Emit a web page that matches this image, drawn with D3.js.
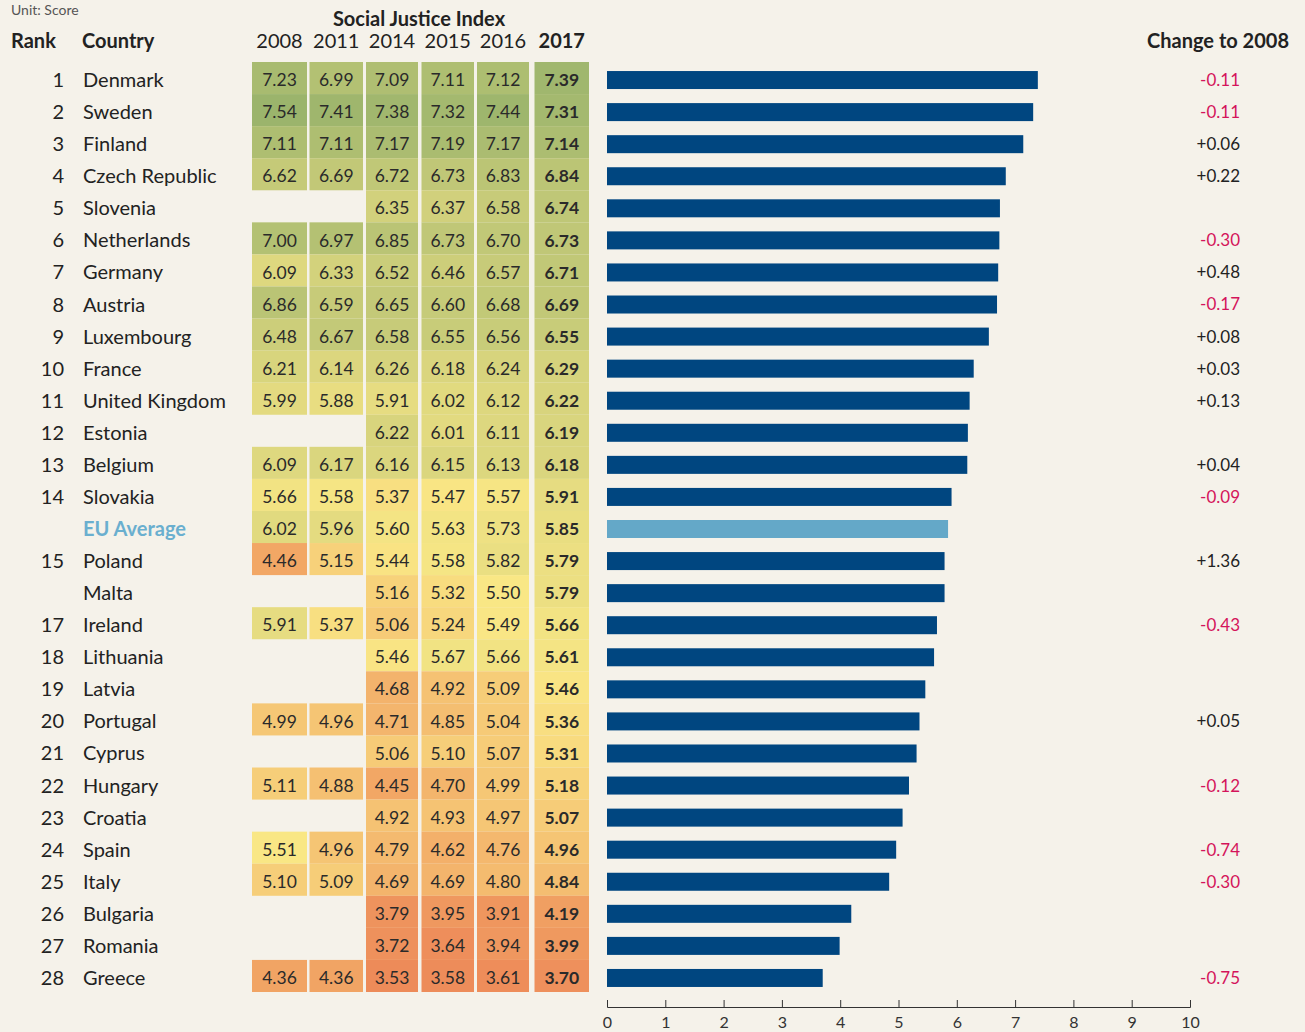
<!DOCTYPE html>
<html>
<head>
<meta charset="utf-8">
<script src="https://cdn.jsdelivr.net/npm/d3@7"></script>
<style>
  body { margin: 0; background: #f5f2ea; }
  svg { display: block; font-family: Lato, "Open Sans", sans-serif; }
</style>
</head>
<body>
<div id="vis"></div>
<script>
var width = 1305;
var height = 1032;

// data
var ranks = ['1', '2', '3', '4', '5', '6', '7', '8', '9', '10', '11', '12', '13', '14', '',
    '15', '', '17', '18', '19', '20', '21', '22', '23', '24', '25', '26', '27', '28'];
var countries = ['Denmark', 'Sweden', 'Finland', 'Czech Republic', 'Slovenia', 'Netherlands',
    'Germany', 'Austria', 'Luxembourg', 'France', 'United Kingdom', 'Estonia', 'Belgium',
    'Slovakia', 'EU Average', 'Poland', 'Malta', 'Ireland', 'Lithuania', 'Latvia', 'Portugal',
    'Cyprus', 'Hungary', 'Croatia', 'Spain', 'Italy', 'Bulgaria', 'Romania', 'Greece'];
var years = ['2008', '2011', '2014', '2015', '2016', '2017'];
var v2008 = [7.23, 7.54, 7.11, 6.62, null, 7.00, 6.09, 6.86, 6.48, 6.21, 5.99, null, 6.09,
    5.66, 6.02, 4.46, null, 5.91, null, null, 4.99, null, 5.11, null, 5.51, 5.10, null, null, 4.36];
var v2011 = [6.99, 7.41, 7.11, 6.69, null, 6.97, 6.33, 6.59, 6.67, 6.14, 5.88, null, 6.17,
    5.58, 5.96, 5.15, null, 5.37, null, null, 4.96, null, 4.88, null, 4.96, 5.09, null, null, 4.36];
var v2014 = [7.09, 7.38, 7.17, 6.72, 6.35, 6.85, 6.52, 6.65, 6.58, 6.26, 5.91, 6.22, 6.16,
    5.37, 5.60, 5.44, 5.16, 5.06, 5.46, 4.68, 4.71, 5.06, 4.45, 4.92, 4.79, 4.69, 3.79, 3.72, 3.53];
var v2015 = [7.11, 7.32, 7.19, 6.73, 6.37, 6.73, 6.46, 6.60, 6.55, 6.18, 6.02, 6.01, 6.15,
    5.47, 5.63, 5.58, 5.32, 5.24, 5.67, 4.92, 4.85, 5.10, 4.70, 4.93, 4.62, 4.69, 3.95, 3.64, 3.58];
var v2016 = [7.12, 7.44, 7.17, 6.83, 6.58, 6.70, 6.57, 6.68, 6.56, 6.24, 6.12, 6.11, 6.13,
    5.57, 5.73, 5.82, 5.50, 5.49, 5.66, 5.09, 5.04, 5.07, 4.99, 4.97, 4.76, 4.80, 3.91, 3.94, 3.61];
var v2017 = [7.39, 7.31, 7.14, 6.84, 6.74, 6.73, 6.71, 6.69, 6.55, 6.29, 6.22, 6.19, 6.18,
    5.91, 5.85, 5.79, 5.79, 5.66, 5.61, 5.46, 5.36, 5.31, 5.18, 5.07, 4.96, 4.84, 4.19, 3.99, 3.70];
var change = [-0.11, -0.11, 0.06, 0.22, null, -0.30, 0.48, -0.17, 0.08, 0.03, 0.13, null, 0.04,
    -0.09, null, 1.36, null, -0.43, null, null, 0.05, null, -0.12, null, -0.74, -0.30, null, null, -0.75];
var xTicks = [0, 1, 2, 3, 4, 5, 6, 7, 8, 9, 10];

var columns = [v2008, v2011, v2014, v2015, v2016, v2017];
var rows = countries.map(function (c, i) {
    return {
        rank: ranks[i], country: c, change: change[i], score: v2017[i],
        values: columns.map(function (col) { return col[i]; }),
        eu: c === 'EU Average'
    };
});

var svg = d3.select('#vis').append('svg')
    .attr('width', width)
    .attr('height', height);

// row positions
var y = d3.scaleBand()
    .domain(d3.range(rows.length))
    .range([62, 992])
    .paddingInner(0);

// heatmap column positions
var colX = [252, 309.5, 366, 421.5, 477, 534.5];
var colW = [55, 53.5, 52, 52.5, 52, 54.5];

var color = d3.scaleLinear()
    .domain([3.5, 4.5, 5.5, 6.35, 7.5])
    .range(['#ed8a59', '#f2a866', '#f9e785', '#d2d17c', '#9bb46c'])
    .clamp(true);

var x = d3.scaleLinear().domain([0, 10]).range([607, 1190]);

// headers
svg.append('text').attr('x', 11).attr('y', 15)
    .attr('font-size', 14).attr('fill', '#555').text('Unit: Score');
svg.append('text').attr('x', 419).attr('y', 26)
    .attr('text-anchor', 'middle').attr('font-size', 20).attr('font-weight', 700)
    .attr('fill', '#222').text('Social Justice Index');
svg.append('text').attr('x', 11).attr('y', 48)
    .attr('font-size', 20).attr('font-weight', 700).attr('fill', '#222').text('Rank');
svg.append('text').attr('x', 82).attr('y', 48)
    .attr('font-size', 20).attr('font-weight', 700).attr('fill', '#222').text('Country');
svg.append('text').attr('x', 1289).attr('y', 48)
    .attr('text-anchor', 'end').attr('font-size', 20).attr('font-weight', 700)
    .attr('fill', '#222').text('Change to 2008');
svg.selectAll('.year')
    .data(years)
    .enter().append('text')
    .attr('class', 'year')
    .attr('x', function (d, i) { return colX[i] + colW[i] / 2; })
    .attr('y', 48)
    .attr('text-anchor', 'middle')
    .attr('font-size', 20)
    .attr('font-weight', function (d, i) { return i === 5 ? 700 : 400; })
    .attr('fill', '#222')
    .text(function (d) { return d; });

var row = svg.append('g').selectAll('g')
    .data(rows)
    .enter().append('g')
    .attr('transform', function (d, i) { return 'translate(0,' + y(i) + ')'; });

var mid = y.bandwidth() / 2 + 2;

row.append('text')
    .attr('x', 64).attr('y', mid).attr('dy', '0.35em')
    .attr('text-anchor', 'end').attr('font-size', 20).attr('fill', '#222')
    .text(function (d) { return d.rank; });

row.append('text')
    .attr('x', 83).attr('y', mid).attr('dy', '0.35em')
    .attr('font-size', 20)
    .attr('font-weight', function (d) { return d.eu ? 700 : 400; })
    .attr('fill', function (d) { return d.eu ? '#6aafcf' : '#222'; })
    .text(function (d) { return d.country; });

// heat cells
var cell = row.selectAll('.cell')
    .data(function (d) {
        return d.values.map(function (v, j) { return { v: v, j: j }; })
            .filter(function (c) { return c.v !== null; });
    })
    .enter().append('g')
    .attr('class', 'cell');

cell.append('rect')
    .attr('x', function (c) { return colX[c.j]; })
    .attr('y', 0)
    .attr('width', function (c) { return colW[c.j]; })
    .attr('height', y.bandwidth())
    .attr('fill', function (c) { return color(c.v); });

cell.append('text')
    .attr('x', function (c) { return colX[c.j] + colW[c.j] / 2; })
    .attr('y', mid).attr('dy', '0.35em')
    .attr('text-anchor', 'middle')
    .attr('font-size', 17.5)
    .attr('font-weight', function (c) { return c.j === 5 ? 700 : 400; })
    .attr('fill', '#2a2a2a')
    .text(function (c) { return c.v.toFixed(2); });

// bars
row.append('rect')
    .attr('x', x(0))
    .attr('y', mid - 9)
    .attr('width', function (d) { return x(d.score) - x(0); })
    .attr('height', 18)
    .attr('fill', function (d) { return d.eu ? '#64a8c8' : '#004680'; });

// change to 2008
row.filter(function (d) { return d.change !== null; })
    .append('text')
    .attr('x', 1240).attr('y', mid).attr('dy', '0.35em')
    .attr('text-anchor', 'end').attr('font-size', 17)
    .attr('fill', function (d) { return d.change < 0 ? '#d4145a' : '#222'; })
    .text(function (d) { return (d.change > 0 ? '+' : '') + d.change.toFixed(2); });

// axis
var axis = svg.append('g')
    .attr('transform', 'translate(0,1007)')
    .call(d3.axisTop(x).tickValues(xTicks).tickSize(7).tickSizeOuter(7).tickFormat(d3.format('d')));
axis.select('.domain').attr('stroke', '#333');
axis.selectAll('.tick line').attr('stroke', '#333');
axis.selectAll('.tick text')
    .attr('y', 15).attr('dy', '0.35em')
    .attr('font-size', 16).attr('font-family', 'Lato, sans-serif').attr('fill', '#333');
</script>
</body>
</html>
